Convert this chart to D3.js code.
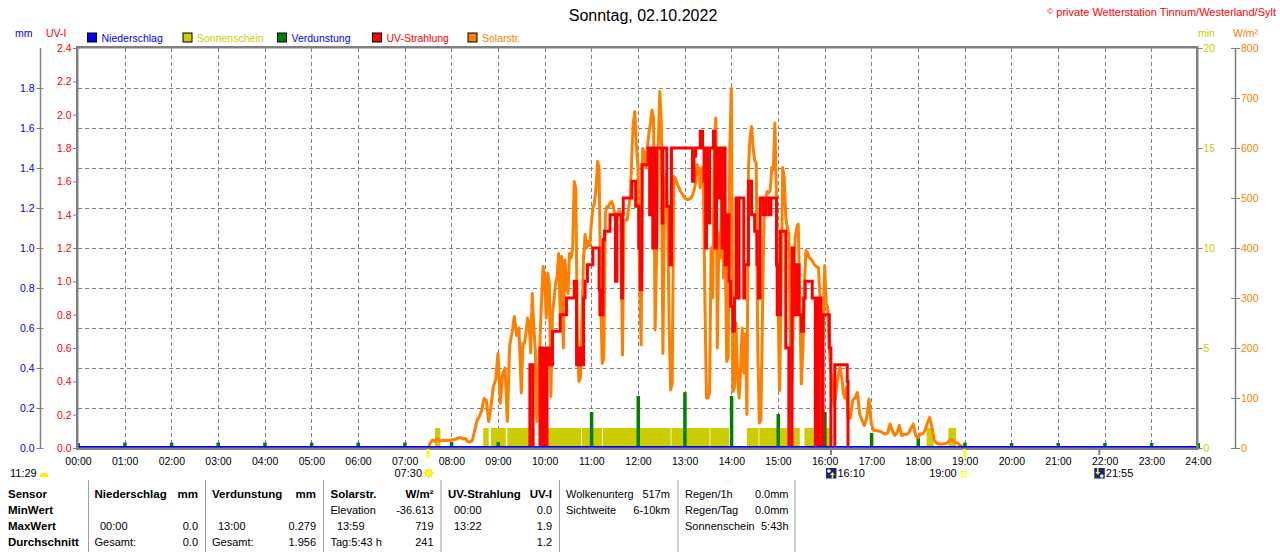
<!DOCTYPE html>
<html><head><meta charset="utf-8">
<script src="https://cdn.jsdelivr.net/npm/d3@7"></script>
<style>
html,body{margin:0;padding:0;background:#fff;}
svg{display:block;font-family:"Liberation Sans",Arial,sans-serif;}
</style></head><body>
<svg id="c" width="1280" height="552"></svg>
<script>
// ---------------- DATA ----------------
const titleText = "Sonntag, 02.10.2022";
const copyrightText = "private Wetterstation Tinnum/Westerland/Sylt";
const hourLabels = ["00:00","01:00","02:00","03:00","04:00","05:00","06:00","07:00","08:00","09:00","10:00","11:00","12:00",
  "13:00","14:00","15:00","16:00","17:00","18:00","19:00","20:00","21:00","22:00","23:00","24:00"];
const mmTickLabels = ["0.0","0.2","0.4","0.6","0.8","1.0","1.2","1.4","1.6","1.8"];
const uvTickLabels = ["0.0","0.2","0.4","0.6","0.8","1.0","1.2","1.4","1.6","1.8","2.0","2.2","2.4"];
const minTickLabels = ["0","5","10","15","20"];
const solarTickLabels = ["0","100","200","300","400","500","600","700","800"];

const legendNames = ["Niederschlag","Sonnenschein","Verdunstung","UV-Strahlung","Solarstr."];

// Niederschlag (mm) per hour
const niederschlag = [0,0,0,0,0,0,0,0,0,0,0,0,0,0,0,0,0,0,0,0,0,0,0,0,0];
// Verdunstung (mm) per hour 00:00..24:00
const verdunstung = [0.025,0.027,0.027,0.027,0.027,0.027,0.027,0.027,0.03,0.03,0.10,0.18,0.26,0.279,0.26,0.17,0.18,0.075,0.05,0.027,0.025,0.025,0.025,0.025,0.025];

// Sonnenschein (min) intervals
const sunStart = ["07:39","08:41","08:51","09:12","09:53","10:48","11:15","12:43","13:33","14:20","14:36","15:34","18:11","18:39"];
const sunEnd   = ["07:46","08:48","09:10","09:47","10:47","11:14","12:42","13:32","13:57","14:35","15:28","16:07","18:20","18:49"];
const sunValue = [1,1,1,1,1,1,1,1,1,1,1,1,1,1];

// Solarstrahlung (W/m²)
const solarAMStart = "07:30", solarAMStep = 3;   // 07:30 .. 09:30
const solarAM = [0,10,16,13,19,14,15,15,15,15,
  16,17,18,20,21,18,19,13,12,15,
  35,55,63,75,99,95,53,83,123,136,
  189,89,149,160,53,205,230,263,225,240,
  110];
const solarMidStart = "09:32", solarMidStep = 2; // 09:32 .. 16:30
const solarMid = [
  209,209,230,260,250,190,309,243,196,53,140,216,296,363,340,
  260,350,330,103,269,296,329,343,389,270,383,200,376,330,309,
  389,380,400,533,520,233,133,140,267,380,427,400,413,405,450,
  480,489,520,573,560,300,169,180,469,483,480,490,493,485,470,
  460,470,475,465,186,456,456,456,480,500,583,650,673,603,560,
  343,206,599,590,560,600,629,650,676,660,236,400,600,713,650,
  189,483,549,480,250,116,130,543,540,530,523,515,510,505,500,
  498,497,498,500,505,515,530,567,560,520,560,540,300,100,100,
  110,400,300,600,660,200,430,380,560,340,430,173,180,600,719,
  113,120,250,140,100,160,240,150,228,67,560,620,643,600,575,
  570,200,50,55,267,461,500,513,510,515,561,557,650,500,300,
  115,300,561,540,461,440,428,195,128,300,420,440,448,300,128,
  200,330,395,390,381,378,375,368,365,362,361,301,160,250,365,
  288,280,195,150,128,88,100,130,150,161,140,110,100,121,60];
const solarPMStart = "16:33", solarPMStep = 3;   // 16:33 .. 19:00
const solarPM = [60,95,100,111,68,55,45,60,98,48,
  35,35,34,33,30,28,30,48,35,25,
  30,45,25,27,27,30,40,48,25,21,
  28,28,35,50,61,40,15,10,8,8,
  8,9,12,18,14,11,10,5,3,0];

// UV-Strahlung (UV-I), change points
const uvTimes = [
  "00:00","09:41","09:45","09:54","09:56","09:57","09:59","10:00","10:02","10:03",
  "10:06","10:10","10:20","10:28","10:38","10:41","10:44","10:47","10:50","10:52",
  "10:55","11:02","11:10","11:11","11:15","11:17","11:24","11:31","11:33","11:39",
  "11:40","11:41","11:52","11:57","12:01","12:03","12:05","12:13","12:15","12:16",
  "12:19","12:20","12:23","12:24","12:31","12:32","12:37","12:41","12:43","13:10",
  "13:12","13:14","13:20","13:23","13:25","13:27","13:28","13:30","13:32","13:37",
  "13:39","13:41","13:44","13:45","13:48","13:50","13:52","13:54","13:57","13:59",
  "14:02","14:04","14:06","14:08","14:10","14:16","14:17","14:22","14:26","14:30",
  "14:33","14:35","14:37","14:41","14:45","14:49","14:51","14:58","14:59","15:03",
  "15:10","15:14","15:18","15:20","15:22","15:24","15:27","15:30","15:33","15:35",
  "15:44","15:48","15:49","15:52","15:53","15:55","15:57","15:58","16:06","16:08",
  "16:13","16:29","16:30","24:00"];
const uvValues = [
  0,0.5,0,0.6,0,0.6,0,0.6,0,0.6,
  0.5,0.7,0.8,0.9,1.0,0.5,0.6,0.5,0.9,1.0,
  1.1,1.2,0.95,0.8,1.25,1.3,1.4,1.0,1.4,0.9,
  1.4,1.5,1.6,1.45,1.2,0.95,1.7,1.8,1.4,1.8,
  1.2,1.8,1.2,1.8,1.35,1.8,1.45,1.1,1.8,1.6,
  1.75,1.8,1.9,1.8,1.6,1.2,1.8,1.35,1.8,1.9,
  1.2,1.8,1.5,1.8,1.2,1.8,1.1,1.4,1.0,0.85,
  0.7,0.9,1.5,0.9,1.5,0.9,1.1,1.6,1.4,1.3,
  1.1,0.9,1.5,1.4,1.5,1.4,1.5,1.1,0.8,1.3,
  0.6,0,1.2,1.1,0.8,1.1,0.8,0.7,0.9,1.0,
  0.9,0,0.9,0,0.9,0.8,0,0.8,0.6,0,
  0.5,0.4,0,0];

// Sun / moon events
const dayLength = "11:29";
const sunrise = "07:30", sunset = "19:00";
const moonrise = "16:10", moonset = "21:55";

// Table
const tableLabels = ["Sensor","MinWert","MaxWert","Durchschnitt"];
const tNieder = [["Niederschlag","mm"],["",""],["00:00","0.0"],["Gesamt:","0.0"]];
const tVerd   = [["Verdunstung","mm"],["",""],["13:00","0.279"],["Gesamt:","1.956"]];
const tSolar  = [["Solarstr.","W/m²"],["Elevation","-36.613"],["13:59","719"],["Tag:5:43 h","241"]];
const tUV     = [["UV-Strahlung","UV-I"],["00:00","0.0"],["13:22","1.9"],["","1.2"]];
const tCloud  = [["Wolkenunterg","517m"],["Sichtweite","6-10km"]];
const tRain   = [["Regen/1h","0.0mm"],["Regen/Tag","0.0mm"],["Sonnenschein","5:43h"]];

// ---------------- CHART ----------------
const svg = d3.select('#c');
const X0 = 78, X1 = 1198, YT = 48, YB = 448;
const GRAY = '#808080';
const C = {blue:'#0000ff', yellow:'#cccc00', green:'#008000', red:'#ff0000', orange:'#ff8000'};
const tm = s => { const p = s.split(':').map(Number); return p[0]*60 + p[1]; };

const x = d3.scaleLinear().domain([0,1440]).range([X0,X1]);
const yMM = d3.scaleLinear().domain([0,2.0]).range([YB,YT]);
const yUV = d3.scaleLinear().domain([0,2.4]).range([YB,YT]);
const yMin = d3.scaleLinear().domain([0,20]).range([YB,YT]);
const ySol = d3.scaleLinear().domain([0,800]).range([YB,YT]);

// title & copyright
svg.append('text').attr('x',643).attr('y',21).attr('text-anchor','middle')
  .attr('font-size',16).attr('fill','#000').text(titleText);
const cp = svg.append('text').attr('x',1276).attr('y',16).attr('text-anchor','end')
  .attr('font-size',11).attr('fill',C.red);
cp.append('tspan').attr('font-size',8).attr('dy',-2).text('©');
cp.append('tspan').attr('dy',2).text(' ' + copyrightText);

// unit labels
const unit = (tx, xx, col, anchor) => svg.append('text').attr('x',xx).attr('y',37)
  .attr('font-size',10.5).attr('fill',col).attr('text-anchor',anchor||'start').text(tx);
unit('mm',15,C.blue); unit('UV-I',46,C.red); unit('min',1198,C.yellow); unit('W/m²',1233,C.orange);

// legend
const legX = [87.5,183,277.5,372.5,468];
const legSq = [C.blue,C.yellow,C.green,C.red,C.orange];
const legTxt = [C.blue,C.yellow,C.blue,C.red,C.orange];
legendNames.forEach((n,i) => {
  svg.append('rect').attr('x',legX[i]).attr('y',33).attr('width',9).attr('height',9)
    .attr('fill',legSq[i]).attr('stroke','#000').attr('stroke-width',1);
  svg.append('text').attr('x',legX[i]+14).attr('y',42).attr('font-size',10.5)
    .attr('fill',legTxt[i]).text(n);
});

// grid
const grid = svg.append('g').attr('stroke',GRAY).attr('stroke-width',1).attr('stroke-dasharray','4,3');
mmTickLabels.slice(1).forEach(t => {
  const yy = Math.round(yMM(+t)) + 0.5;
  grid.append('line').attr('x1',X0).attr('x2',X1).attr('y1',yy).attr('y2',yy);
});
hourLabels.slice(1,24).forEach(h => {
  const xx = Math.round(x(tm(h))) + 0.5;
  grid.append('line').attr('x1',xx).attr('x2',xx).attr('y1',YT).attr('y2',YB);
});

// Sonnenschein bars
const plot = svg.append('g');
sunStart.forEach((s,i) => {
  plot.append('rect').attr('x',x(tm(s))).attr('width',x(tm(sunEnd[i])) - x(tm(s)))
    .attr('y',yMin(sunValue[i])).attr('height',yMin(0) - yMin(sunValue[i]))
    .attr('fill',C.yellow);
});

// Verdunstung spikes
verdunstung.forEach((v,h) => {
  plot.append('rect').attr('x',x(h*60)-1.5).attr('width',3.5)
    .attr('y',yMM(v)).attr('height',yMM(0)-yMM(v)).attr('fill',C.green);
});

// Solar line
function series(start, step, vals){ return vals.map((v,i) => [tm(start) + i*step, v]); }
const solarPts = [].concat(series(solarAMStart,solarAMStep,solarAM),
  series(solarMidStart,solarMidStep,solarMid), series(solarPMStart,solarPMStep,solarPM));
plot.append('path').datum(solarPts)
  .attr('d', d3.line().x(d => x(d[0])).y(d => ySol(d[1])))
  .attr('fill','none').attr('stroke',C.orange).attr('stroke-width',3).attr('stroke-linejoin','round');

// UV step line
const uvPts = uvTimes.map((t,i) => [tm(t), uvValues[i]]);
plot.append('path').datum(uvPts)
  .attr('d', d3.line().curve(d3.curveStepAfter).x(d => x(d[0])).y(d => yUV(d[1])))
  .attr('fill','none').attr('stroke',C.red).attr('stroke-width',3);

// Niederschlag line
plot.append('path').datum(niederschlag)
  .attr('d', d3.line().x((d,i) => x(i*60)).y(d => yMM(d) - 1))
  .attr('fill','none').attr('stroke',C.blue).attr('stroke-width',2);

// plot border
svg.append('rect').attr('x',77.25).attr('y',47.25).attr('width',1120).attr('height',401.5)
  .attr('fill','none').attr('stroke',GRAY).attr('stroke-width',2.5);

// axes
function styleAxis(g, col){
  g.attr('font-family',null).attr('font-size',10.5);
  g.selectAll('.tick line').attr('stroke',GRAY);
  g.selectAll('.tick text').attr('fill',col);
  g.select('.domain').remove();
}
const aMM = svg.append('g').attr('transform','translate(43.5,0)')
  .call(d3.axisLeft(yMM).tickValues(mmTickLabels.map(Number)).tickFormat((d,i)=>mmTickLabels[i]).tickSize(7).tickPadding(2));
styleAxis(aMM, C.blue);
svg.append('line').attr('x1',40.5).attr('x2',40.5).attr('y1',YT).attr('y2',YB).attr('stroke',GRAY).attr('stroke-width',1.5);

const aUV = svg.append('g').attr('transform','translate(77,0)')
  .call(d3.axisLeft(yUV).tickValues(uvTickLabels.map(Number)).tickFormat((d,i)=>uvTickLabels[i]).tickSize(4).tickPadding(1.5));
styleAxis(aUV, C.red);

const aMin = svg.append('g').attr('transform','translate(1197.5,0)')
  .call(d3.axisRight(yMin).tickValues(minTickLabels.map(Number)).tickFormat((d,i)=>minTickLabels[i]).tickSize(5).tickPadding(1));
styleAxis(aMin, C.yellow);

const aSol = svg.append('g').attr('transform','translate(1231,0)')
  .call(d3.axisRight(ySol).tickValues(solarTickLabels.map(Number)).tickFormat((d,i)=>solarTickLabels[i]).tickSize(9).tickPadding(1));
styleAxis(aSol, C.orange);
svg.append('line').attr('x1',1235.5).attr('x2',1235.5).attr('y1',YT).attr('y2',YB).attr('stroke',GRAY).attr('stroke-width',1.5);

const aX = svg.append('g').attr('transform',`translate(0,${YB})`)
  .call(d3.axisBottom(x).tickValues(hourLabels.map(tm)).tickFormat((d,i)=>hourLabels[i]).tickSize(0).tickPadding(10));
styleAxis(aX, '#000');

// sun / moon annotations
const ann = svg.append('g').attr('font-size',11).attr('fill','#000');
ann.append('text').attr('x',10).attr('y',477).text(dayLength);
ann.append('path').attr('d', d3.arc()({innerRadius:0, outerRadius:4.5, startAngle:-Math.PI/2, endAngle:Math.PI/2}))
  .attr('transform','translate(44,477)').attr('fill','#ffee00');

function sunMark(t){
  svg.append('line').attr('x1',x(tm(t))).attr('x2',x(tm(t))).attr('y1',449).attr('y2',458)
    .attr('stroke','#ffff00').attr('stroke-width',2.5);
}
sunMark(sunrise); sunMark(sunset);
const sx = x(tm(sunrise));
ann.append('text').attr('x',sx-6).attr('y',477).attr('text-anchor','end').text(sunrise);
const sunG = svg.append('g').attr('transform',`translate(${sx+0.5},473)`);
d3.range(8).forEach(k => {
  const a = k*Math.PI/4;
  sunG.append('line').attr('x1',Math.cos(a)*3).attr('y1',Math.sin(a)*3)
    .attr('x2',Math.cos(a)*5.2).attr('y2',Math.sin(a)*5.2).attr('stroke','#f0d000').attr('stroke-width',1.2);
});
sunG.append('circle').attr('r',3).attr('fill','#ffff00').attr('stroke','#f0d000').attr('stroke-width',0.6);

const ssx = x(tm(sunset));
ann.append('text').attr('x',ssx-8).attr('y',477).attr('text-anchor','end').text(sunset);
svg.append('rect').attr('x',ssx-3.5).attr('y',471.5).attr('width',5).attr('height',5)
  .attr('fill','none').attr('stroke','#ffff00').attr('stroke-width',1.2);

function moonMark(t, rise){
  const mx = x(tm(t));
  svg.append('line').attr('x1',mx-1.5).attr('x2',mx-1.5).attr('y1',448).attr('y2',455)
    .attr('stroke',GRAY).attr('stroke-width',2);
  const g = svg.append('g').attr('transform',`translate(${mx-6.5},468)`);
  g.append('rect').attr('width',10.5).attr('height',10.5).attr('fill','#1a237e');
  if (rise){
    g.append('circle').attr('cx',3).attr('cy',3).attr('r',1.8).attr('fill','#fff');
    g.append('path').attr('d','M6.5,4 L9,7 L7.3,7 L7.3,10.5 L5.7,10.5 L5.7,7 L4,7 Z').attr('fill','#ffee00');
  } else {
    g.append('circle').attr('cx',7.5).attr('cy',8).attr('r',1.8).attr('fill','#fff');
    g.append('path').attr('d','M3.5,7 L1,4 L2.7,4 L2.7,0 L4.3,0 L4.3,4 L6,4 Z').attr('fill','#ffee00');
  }
  ann.append('text').attr('x',mx+5).attr('y',477).text(t);
}
moonMark(moonrise, true); moonMark(moonset, false);

// table
const tb = svg.append('g').attr('font-size',11).attr('fill','#000');
[88.5,205.5,323.5,441,559.5,678,795].forEach(xx => {
  tb.append('line').attr('x1',xx).attr('x2',xx).attr('y1',480).attr('y2',552).attr('stroke','#a0a0a0').attr('stroke-width',1);
});
const rowY = [498,514,530,546];
tableLabels.forEach((l,i) => tb.append('text').attr('x',8).attr('y',rowY[i]).attr('font-weight','bold').attr('font-size',11.5).text(l));
function col(rows, xl, xr, indentMax){
  rows.forEach((r,i) => {
    const bold = i === 0;
    const xLeft = (indentMax && i === 2) ? xl + indentMax : xl;
    if (r[0]) tb.append('text').attr('x',xLeft).attr('y',rowY[i]).attr('font-weight',bold?'bold':null)
      .attr('font-size',bold?11.5:11).text(r[0]);
    if (r[1]) tb.append('text').attr('x',xr).attr('y',rowY[i]).attr('text-anchor','end')
      .attr('font-weight',bold?'bold':null).attr('font-size',bold?11.5:11).text(r[1]);
  });
}
col(tNieder, 94.5, 198, 5.5);
col(tVerd, 212, 316, 6);
col(tSolar, 330.5, 433.5, 6.5);
tUV.forEach((r,i) => {
  const bold = i === 0;
  if (r[0]) tb.append('text').attr('x', bold ? 448 : 454).attr('y',rowY[i]).attr('font-weight',bold?'bold':null)
    .attr('font-size',bold?11.5:11).text(r[0]);
  tb.append('text').attr('x',552).attr('y',rowY[i]).attr('text-anchor','end').attr('font-weight',bold?'bold':null)
    .attr('font-size',bold?11.5:11).text(r[1]);
});
tCloud.forEach((r,i) => {
  tb.append('text').attr('x',566).attr('y',rowY[i]).text(r[0]);
  tb.append('text').attr('x',670).attr('y',rowY[i]).attr('text-anchor','end').text(r[1]);
});
tRain.forEach((r,i) => {
  tb.append('text').attr('x',685).attr('y',rowY[i]).text(r[0]);
  tb.append('text').attr('x',788.5).attr('y',rowY[i]).attr('text-anchor','end').text(r[1]);
});
</script>
</body></html>
